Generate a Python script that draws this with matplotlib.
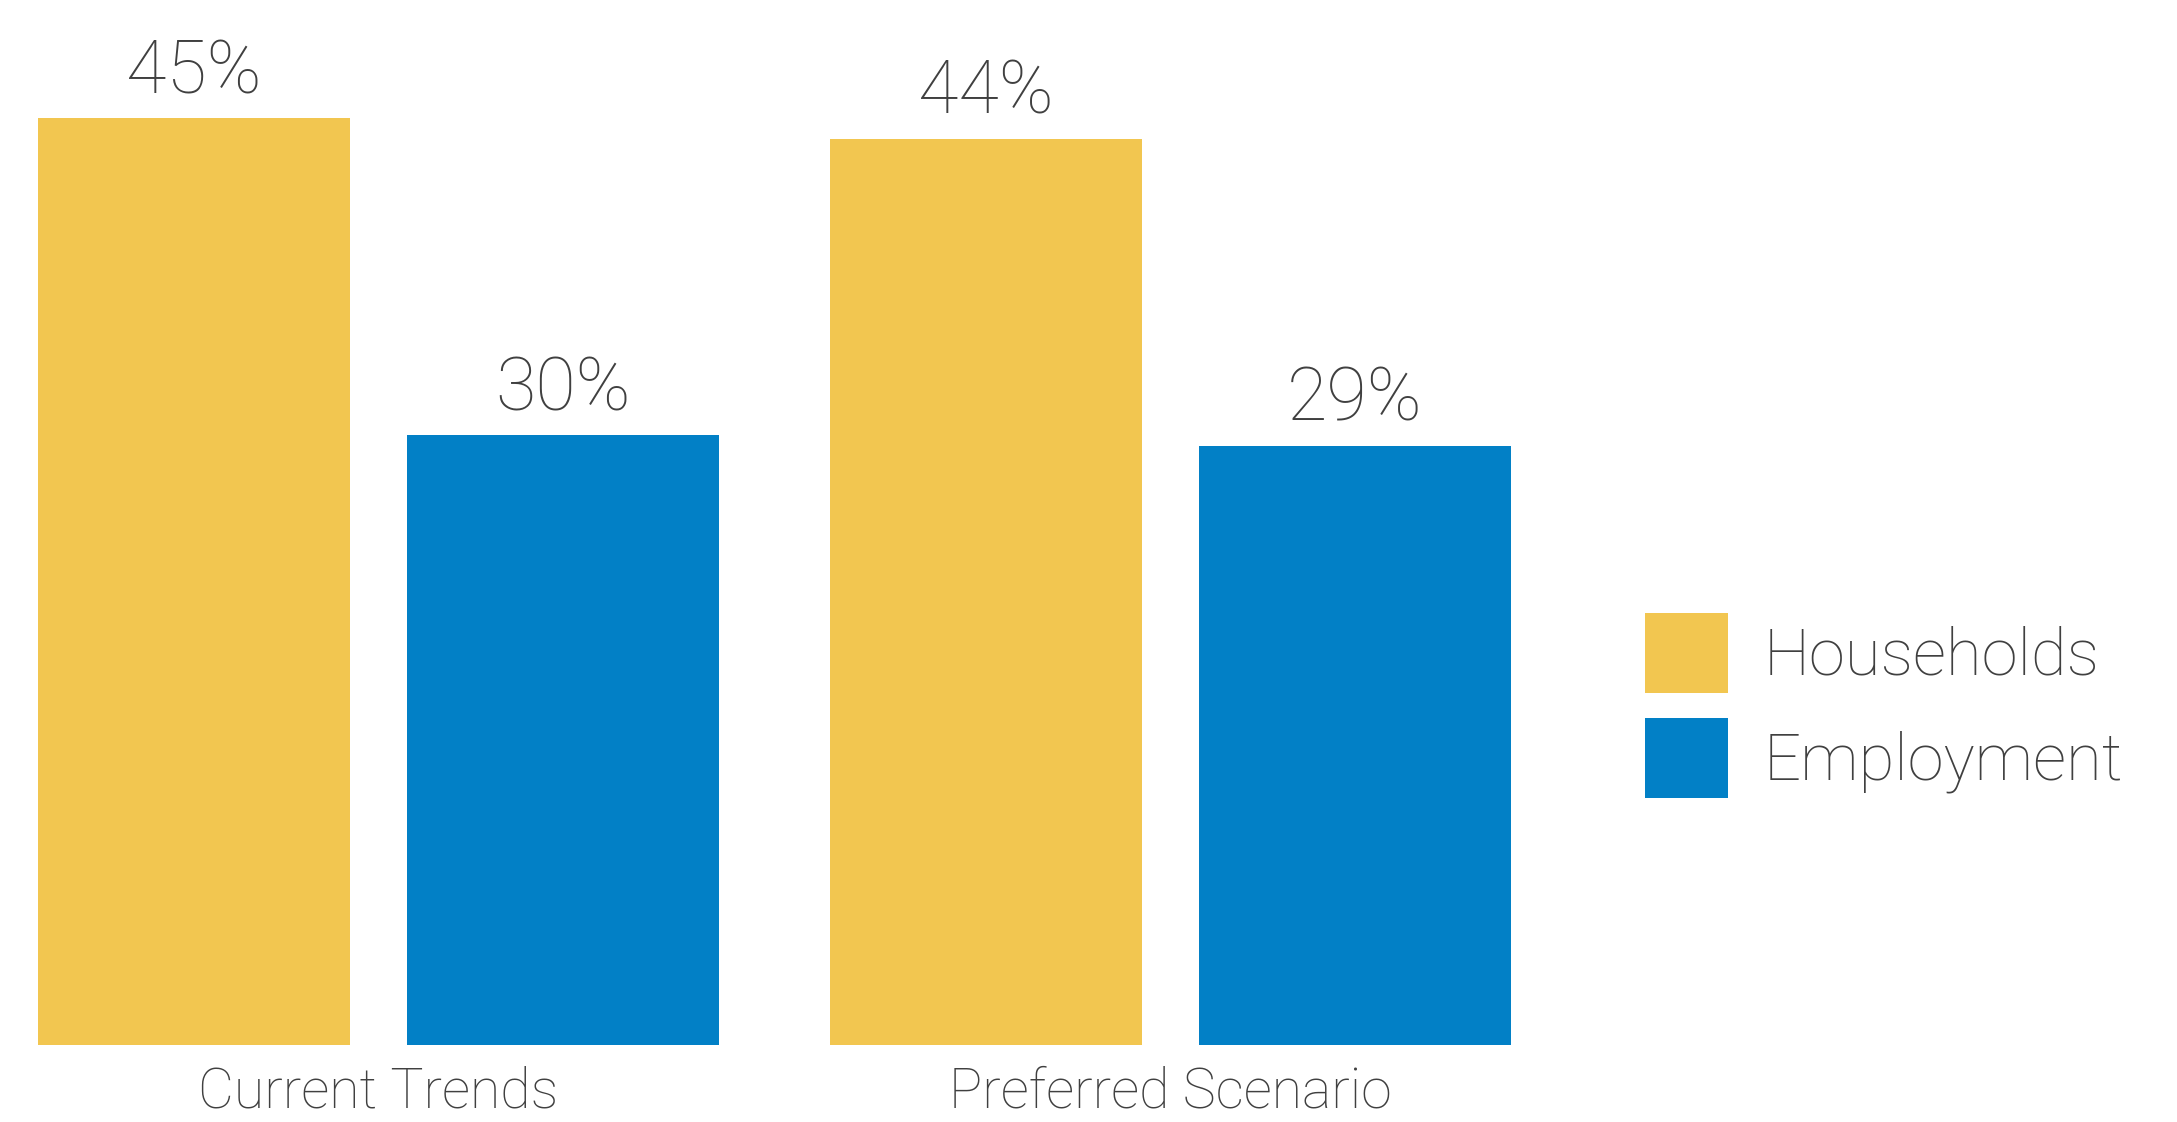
import matplotlib
matplotlib.use("Agg")
import matplotlib.pyplot as plt
import numpy as np

# data
categories = ["Current Trends", "Preferred Scenario"]
households = [45.0, 44.0]
employment = [29.6, 29.1]
series_names = ["Households", "Employment"]

yellow = "#F2C650"
blue = "#0280C6"
text_color = "#404040"
font_name = "Roboto"

plt.rcParams["font.family"] = [font_name, "DejaVu Sans"]
plt.rcParams["font.weight"] = "light"

fig = plt.figure(figsize=(21.77, 11.22), dpi=100)
ax = fig.add_axes([37.5 / 2177, 1 - 1045 / 1122, (1511 - 37.5) / 2177, 1030 / 1122])

x = np.arange(len(categories))
bar_w = 0.394
offset = 0.233

b1 = ax.bar(x - offset, households, width=bar_w, color=yellow, label=series_names[0])
b2 = ax.bar(x + offset, employment, width=bar_w, color=blue, label=series_names[1])

for bars, vals in [(b1, households), (b2, employment)]:
    for rect, v in zip(bars, vals):
        ax.annotate(f"{v:.0f}%", (rect.get_x() + rect.get_width() / 2, v),
                    xytext=(0, 7), textcoords="offset points",
                    ha="center", va="bottom", fontsize=53, color=text_color)

ax.set_xlim(-0.43, 1.43)
ax.set_ylim(0, 50)
ax.set_xticks(x, categories)
ax.tick_params(axis="x", length=0, pad=15, labelsize=40, labelcolor=text_color)
ax.set_yticks([])
for s in ax.spines.values():
    s.set_visible(False)

fig.legend(handles=[b1, b2], labels=series_names, loc="center left",
           bbox_to_anchor=(1645 / 2177, 1 - 705.5 / 1122), frameon=False,
           fontsize=47, handlelength=1.27, handleheight=1.52, labelspacing=0.38,
           handletextpad=0.55, borderpad=0, borderaxespad=0, labelcolor=text_color)

fig.savefig("out.png", dpi=100)
